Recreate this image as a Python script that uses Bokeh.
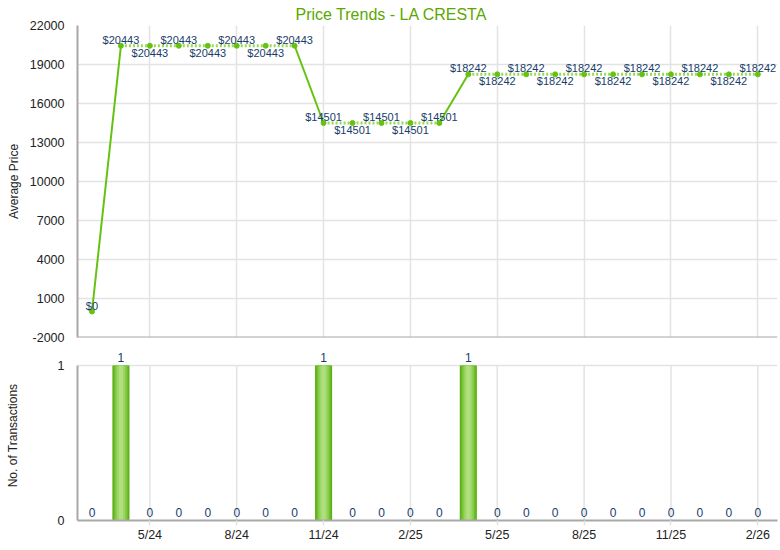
from bokeh.plotting import figure
from bokeh.layouts import column
from bokeh.models import ColumnDataSource, FixedTicker, LabelSet, Range1d, Span
from bokeh.core.properties import value
from bokeh.embed import file_html
from bokeh.resources import INLINE

months = ["3/24", "4/24", "5/24", "6/24", "7/24", "8/24", "9/24", "10/24",
          "11/24", "12/24", "1/25", "2/25", "3/25", "4/25", "5/25", "6/25",
          "7/25", "8/25", "9/25", "10/25", "11/25", "12/25", "1/26", "2/26"]
prices = [0, 20443, 20443, 20443, 20443, 20443, 20443, 20443,
          14501, 14501, 14501, 14501, 14501,
          18242, 18242, 18242, 18242, 18242, 18242, 18242, 18242, 18242, 18242, 18242]
counts = [0, 1, 0, 0, 0, 0, 0, 0, 1, 0, 0, 0, 0, 1, 0, 0, 0, 0, 0, 0, 0, 0, 0, 0]
tick_labels = ["5/24", "8/24", "11/24", "2/25", "5/25", "8/25", "11/25", "2/26"]
price_ticks = [-2000, 1000, 4000, 7000, 10000, 13000, 16000, 19000, 22000]
count_ticks = [0, 1]
title_text = "Price Trends - LA CRESTA"

FONT = "Liberation Sans"
GREEN = "#66c210"
NAVY = "#173d6b"
GRID = "#e3e3e3"
AXIS = "#a8a8a8"

xs = list(range(len(months)))
tick_pos = [months.index(t) for t in tick_labels]
overrides = {i: months[i] for i in tick_pos}
x_range = Range1d(-0.5, 23.68)

# label placement: alternate above/below within runs of equal values
above = []
prev = None
k = 0
for v in prices:
    k = 0 if v != prev else k + 1
    above.append(k % 2 == 0)
    prev = v

def style_axes(p):
    for ax in (p.xaxis[0], p.yaxis[0]):
        ax.axis_line_color = AXIS
        ax.axis_line_width = 2
        ax.major_label_text_font = FONT
        ax.major_label_text_font_size = "12.5px"
        ax.major_label_text_color = "#222222"
        ax.minor_tick_line_color = None
        ax.minor_tick_out = 0
        ax.minor_tick_in = 0
        ax.axis_label_text_font = FONT
        ax.axis_label_text_font_style = "normal"
        ax.axis_label_text_font_size = "12px"
        ax.axis_label_text_color = "#222222"
    p.yaxis.major_tick_line_color = None
    p.yaxis.major_tick_out = 0
    p.yaxis.major_tick_in = 0
    p.yaxis.major_label_standoff = 13
    p.ygrid.grid_line_color = GRID
    p.ygrid.grid_line_width = 1.5
    p.outline_line_color = None
    p.background_fill_color = "white"
    p.border_fill_color = "white"

# ---------------- top chart ----------------
p1 = figure(width=780, height=346, x_range=x_range, y_range=Range1d(-2000, 22000),
            output_backend="svg", toolbar_location=None,
            min_border_left=77, min_border_right=3, min_border_top=0, min_border_bottom=9)
p1.title.text = title_text
p1.title.text_font = FONT
p1.title.text_font_size = "16px"
p1.title.text_font_style = "normal"
p1.title.text_color = "#5aa800"
p1.title.align = "left"
p1.title.offset = 218
p1.title.standoff = 6
style_axes(p1)
p1.xaxis.visible = False
p1.xgrid.ticker = FixedTicker(ticks=tick_pos)
p1.xgrid.grid_line_color = GRID
p1.xgrid.grid_line_width = 1.5
p1.yaxis.ticker = FixedTicker(ticks=price_ticks)
p1.yaxis.major_label_overrides = {t: str(t) for t in price_ticks}
p1.yaxis.axis_label = "Average Price"
p1.yaxis.axis_label_standoff = 6
p1.add_layout(Span(location=price_ticks[0], dimension="width",
                   line_color=AXIS, line_width=2))

solid = {"x0": [], "y0": [], "x1": [], "y1": []}
flat = {"x0": [], "y0": [], "x1": [], "y1": []}
for i in range(len(prices) - 1):
    d = flat if prices[i] == prices[i + 1] else solid
    d["x0"].append(xs[i]); d["y0"].append(prices[i])
    d["x1"].append(xs[i + 1]); d["y1"].append(prices[i + 1])
p1.segment("x0", "y0", "x1", "y1", source=ColumnDataSource(flat),
           line_color="#9ad858", line_width=3, line_dash="2 2")
p1.segment("x0", "y0", "x1", "y1", source=ColumnDataSource(solid),
           line_color=GREEN, line_width=2)
p1.scatter(xs, prices, size=5, color=GREEN)

lab_src = ColumnDataSource(dict(
    x=xs, y=prices, t=["$" + str(v) for v in prices],
    off=[6 if a else -7 for a in above]))
p1.add_layout(LabelSet(x="x", y="y", text="t", y_offset="off", source=lab_src,
                       text_align="center", text_baseline="middle",
                       text_font=value(FONT), text_font_size="11px", text_color=NAVY))

# ---------------- bottom chart ----------------
p2 = figure(width=780, height=198, x_range=x_range, y_range=Range1d(0, 1.097),
            output_backend="svg", toolbar_location=None,
            min_border_left=77, min_border_right=3, min_border_top=4, min_border_bottom=24)
style_axes(p2)
p2.xgrid.grid_line_color = None
p2.segment(x0=tick_pos, y0=[min(count_ticks)] * len(tick_pos),
           x1=tick_pos, y1=[max(count_ticks)] * len(tick_pos),
           line_color=GRID, line_width=1.5)
p2.xaxis.ticker = FixedTicker(ticks=tick_pos)
p2.xaxis.major_label_overrides = overrides
p2.xaxis.major_tick_line_color = GRID
p2.xaxis.major_tick_line_width = 1.5
p2.xaxis.major_tick_in = 0
p2.xaxis.major_tick_out = 5
p2.xaxis.major_label_standoff = 2
p2.yaxis.ticker = FixedTicker(ticks=count_ticks)
p2.yaxis.bounds = (min(count_ticks), max(count_ticks))
p2.yaxis.axis_label = "No. of Transactions"
p2.yaxis.axis_label_standoff = 35

bar_src = ColumnDataSource(dict(x=xs, c=counts))
for w, col in [(0.59, "#5aae16"), (0.50, "#6dbd2a"), (0.40, "#86cb48"),
               (0.28, "#9dd666"), (0.14, "#b0df80")]:
    p2.vbar(x="x", top="c", width=w, source=bar_src, fill_color=col, line_color=None)

cnt_src = ColumnDataSource(dict(x=xs, y=counts, t=[str(c) for c in counts]))
p2.add_layout(LabelSet(x="x", y="y", text="t", y_offset=8, source=cnt_src,
                       text_align="center", text_baseline="middle",
                       text_font=value(FONT), text_font_size="12px", text_color=NAVY))

layout = column(p1, p2, spacing=0)
open("out.html", "w").write(file_html(layout, INLINE))
